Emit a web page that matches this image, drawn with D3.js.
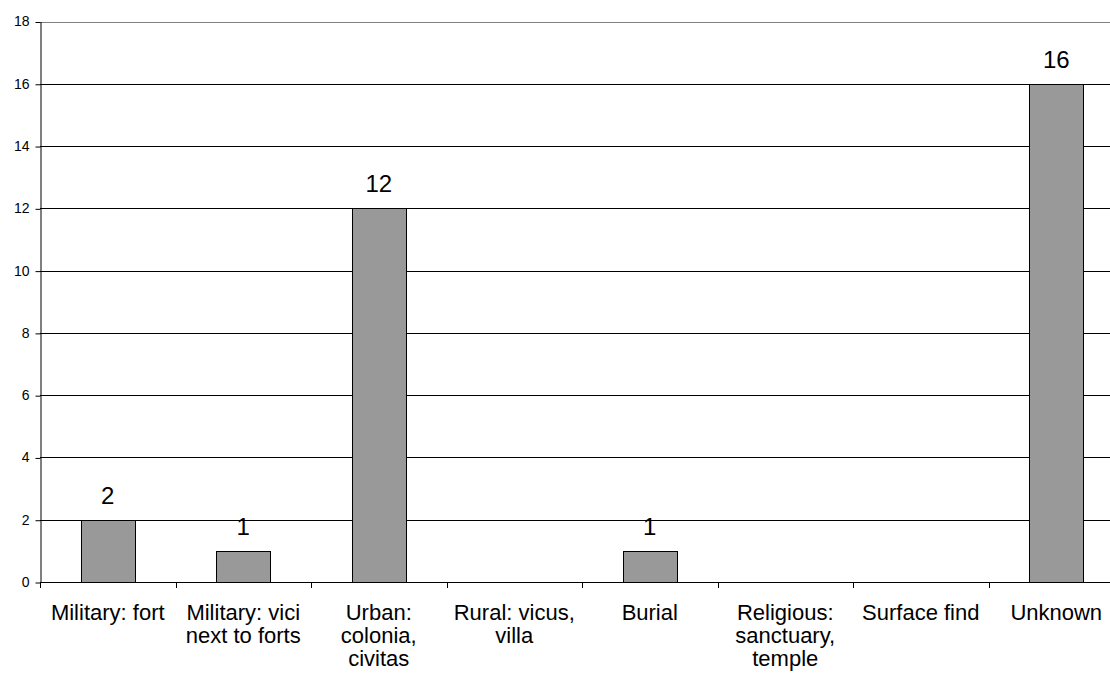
<!DOCTYPE html>
<html><head><meta charset="utf-8">
<script src="https://cdn.jsdelivr.net/npm/d3@7"></script>
<style>body{margin:0;background:#fff;overflow:hidden}svg{display:block}text{font-family:Arial,"Liberation Sans",sans-serif}</style>
</head><body>
<svg id="c" width="1110" height="679"></svg>
<script>
const categories = ["Military: fort","Military: vici\nnext to forts","Urban:\ncolonia,\ncivitas","Rural: vicus,\nvilla","Burial","Religious:\nsanctuary,\ntemple","Surface find","Unknown"];
const values = [2,1,12,0,1,0,0,16];
const yTicks = [0,2,4,6,8,10,12,14,16,18];

(function(){
const svg = d3.select("#c");
const pLeft = 40, pRight = 1124, pTop = 21.5, pBottom = 582;
const x = d3.scaleBand().domain(d3.range(categories.length)).range([pLeft,pRight]).padding(0);
const y = d3.scaleLinear().domain([0,18]).range([pBottom,pTop]);

svg.append("g").selectAll("line").data(yTicks.filter(t=>t>0&&t<18)).join("line")
  .attr("x1",pLeft).attr("x2",pRight).attr("y1",d=>Math.round(y(d))+0.5).attr("y2",d=>Math.round(y(d))+0.5)
  .attr("stroke","#000").attr("stroke-width",1);
svg.append("line").attr("x1",pLeft).attr("x2",pRight).attr("y1",Math.round(y(18))+0.5).attr("y2",Math.round(y(18))+0.5)
  .attr("stroke","#808080");

const bw = x.bandwidth()*0.4;
const barData = values.map((v,i)=>({v,i})).filter(d=>d.v>0);
svg.append("g").selectAll("rect").data(barData).join("rect")
  .attr("x",d=>Math.round(x(d.i)+x.bandwidth()/2-bw/2)+0.5)
  .attr("width",Math.round(bw))
  .attr("y",d=>Math.round(y(d.v))+0.5)
  .attr("height",d=>Math.round(y(0))-Math.round(y(d.v)))
  .attr("fill","#999999").attr("stroke","#000").attr("stroke-width",1);

svg.append("g").selectAll("text").data(barData).join("text")
  .attr("x",d=>x(d.i)+x.bandwidth()/2)
  .attr("y",d=>y(d.v)-16)
  .attr("text-anchor","middle").attr("font-size",24).attr("fill","#000").text(d=>d.v);

const ya = svg.append("g").attr("transform",`translate(${pLeft+0.5},0)`)
  .call(d3.axisLeft(y).tickValues(yTicks).tickSize(5).tickPadding(6).tickSizeOuter(0));
ya.select(".domain").attr("stroke","#000");
ya.selectAll(".tick line").attr("stroke","#000").attr("transform","translate(0,0.5)");
ya.selectAll(".tick text").attr("font-size",14).attr("font-family","Arial, Liberation Sans, sans-serif").attr("fill","#000");

svg.append("line").attr("x1",pLeft).attr("x2",pRight).attr("y1",Math.round(y(0))+0.5).attr("y2",Math.round(y(0))+0.5).attr("stroke","#000");
svg.append("g").selectAll("line").data(d3.range(categories.length+1)).join("line")
  .attr("x1",i=>Math.round(pLeft+i*x.step())+0.5).attr("x2",i=>Math.round(pLeft+i*x.step())+0.5)
  .attr("y1",Math.round(y(0))).attr("y2",Math.round(y(0))+6).attr("stroke","#000");

const cl = svg.append("g").selectAll("text").data(categories).join("text")
  .attr("x",(d,i)=>x(i)+x.bandwidth()/2).attr("y",620)
  .attr("text-anchor","middle").attr("font-size",22).attr("fill","#000");
cl.each(function(d){
  const t = d3.select(this);
  d.split("\n").forEach((line,k)=>{
    t.append("tspan").attr("x",t.attr("x")).attr("dy",k===0?0:23).text(line);
  });
});
})();
</script>
</body></html>
